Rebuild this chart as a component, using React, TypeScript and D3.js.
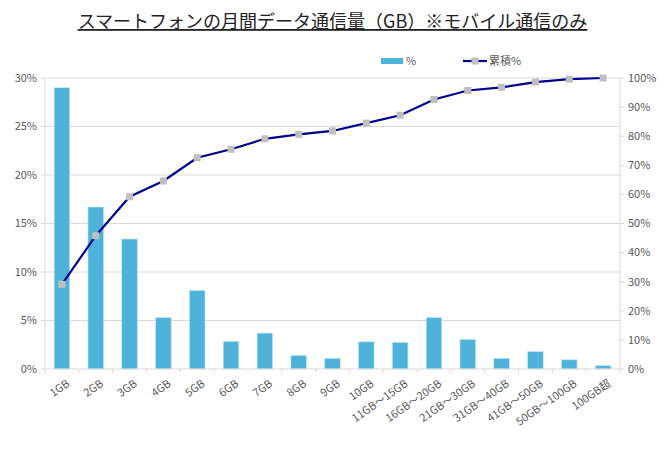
import React, { useEffect, useRef } from 'react';
import * as d3 from 'd3';

const categories = [
  '1GB', '2GB', '3GB', '4GB', '5GB', '6GB', '7GB', '8GB', '9GB', '10GB',
  '11GB～15GB', '16GB～20GB', '21GB～30GB', '31GB～40GB', '41GB～50GB', '50GB～100GB', '100GB超',
];
const shares = [29.0, 16.7, 13.4, 5.3, 8.1, 2.85, 3.7, 1.4, 1.1, 2.8, 2.75, 5.3, 3.05, 1.1, 1.8, 0.95, 0.35];
const cumulative = [29.1, 45.8, 59.2, 64.6, 72.6, 75.5, 79.1, 80.6, 81.8, 84.5, 87.2, 92.6, 95.7, 96.8, 98.6, 99.6, 100];
const leftTicks = [0, 5, 10, 15, 20, 25, 30];
const rightTicks = [0, 10, 20, 30, 40, 50, 60, 70, 80, 90, 100];

const W = 665;
const H = 450;
const FONT = '"Noto Sans CJK JP", "DejaVu Sans", sans-serif';

export default function App() {
  const svgRef = useRef<SVGSVGElement>(null);

  useEffect(() => {
    if (!svgRef.current) return;
    const svg = d3.select(svgRef.current);
    svg.selectAll('*').remove();

    const left = 45, right = 620, top = 78, bottom = 369;

    const x = d3.scaleBand<string>().domain(categories).range([left, right]).paddingInner(0.54).paddingOuter(0.27);
    const yL = d3.scaleLinear().domain([0, 30]).range([bottom, top]);
    const yR = d3.scaleLinear().domain([0, 100]).range([bottom, top]);

    // title
    const title = svg.append('text')
      .attr('x', W / 2).attr('y', 28)
      .attr('text-anchor', 'middle')
      .attr('font-family', FONT)
      .attr('font-size', 18)
      .attr('fill', '#222')
      .attr('text-decoration', 'underline')
      .text('スマートフォンの月間データ通信量（GB）※モバイル通信のみ');

    // gridlines
    svg.append('g').selectAll('line').data(leftTicks.slice(1)).join('line')
      .attr('x1', left).attr('x2', right)
      .attr('y1', (d) => yL(d)).attr('y2', (d) => yL(d))
      .attr('stroke', '#d9d9d9').attr('stroke-width', 1);

    // axis lines
    svg.append('line').attr('x1', left).attr('x2', left).attr('y1', top).attr('y2', bottom).attr('stroke', '#d9d9d9');
    svg.append('line').attr('x1', right).attr('x2', right).attr('y1', top).attr('y2', bottom).attr('stroke', '#d9d9d9');

    // left tick marks & labels
    const gl = svg.append('g');
    gl.selectAll('line').data(leftTicks).join('line')
      .attr('x1', left - 4).attr('x2', left)
      .attr('y1', (d) => yL(d)).attr('y2', (d) => yL(d))
      .attr('stroke', '#d9d9d9');
    gl.selectAll('text').data(leftTicks).join('text')
      .attr('x', left - 8).attr('y', (d) => yL(d))
      .attr('dy', '0.35em')
      .attr('text-anchor', 'end')
      .attr('font-family', FONT).attr('font-size', 11).attr('fill', '#595959')
      .text((d) => `${d}%`);

    const gr = svg.append('g');
    gr.selectAll('line').data(rightTicks).join('line')
      .attr('x1', right).attr('x2', right + 4)
      .attr('y1', (d) => yR(d)).attr('y2', (d) => yR(d))
      .attr('stroke', '#d9d9d9');
    gr.selectAll('text').data(rightTicks).join('text')
      .attr('x', right + 8).attr('y', (d) => yR(d))
      .attr('dy', '0.35em')
      .attr('font-family', FONT).attr('font-size', 11).attr('fill', '#595959')
      .text((d) => `${d}%`);

    // bars
    svg.append('g').selectAll('rect').data(shares).join('rect')
      .attr('x', (_, i) => x(categories[i])!)
      .attr('width', x.bandwidth())
      .attr('y', (d) => yL(d))
      .attr('height', (d) => bottom - yL(d))
      .attr('fill', '#4fb3d9')
      .attr('stroke', '#c6e6f3')
      .attr('stroke-width', 0.6);

    // x axis
    svg.append('line').attr('x1', left).attr('x2', right).attr('y1', bottom).attr('y2', bottom).attr('stroke', '#d9d9d9');
    const step = (right - left) / categories.length;
    svg.append('g').selectAll('line').data(d3.range(categories.length + 1)).join('line')
      .attr('x1', (i) => left + i * step).attr('x2', (i) => left + i * step)
      .attr('y1', bottom).attr('y2', bottom + 4)
      .attr('stroke', '#d9d9d9');
    svg.append('g').selectAll('text').data(categories).join('text')
      .attr('transform', (d) => `translate(${x(d)! + x.bandwidth() / 2 + 4},${bottom + 10}) rotate(-35)`)
      .attr('text-anchor', 'end')
      .attr('dy', '0.7em')
      .attr('font-family', FONT).attr('font-size', 11).attr('fill', '#595959')
      .text((d) => d);

    // cumulative line
    const cx = (i: number) => x(categories[i])! + x.bandwidth() / 2;
    const line = d3.line<number>().x((_, i) => cx(i)).y((d) => yR(d));
    svg.append('path').datum(cumulative)
      .attr('d', line)
      .attr('fill', 'none')
      .attr('stroke', '#00008b')
      .attr('stroke-width', 2.2);
    svg.append('g').selectAll('rect').data(cumulative).join('rect')
      .attr('x', (_, i) => cx(i) - 3.5)
      .attr('y', (d) => yR(d) - 3.5)
      .attr('width', 7).attr('height', 7)
      .attr('fill', '#bfbfbf');

    // legend
    const lg = svg.append('g').attr('font-family', FONT).attr('font-size', 11).attr('fill', '#595959');
    lg.append('rect').attr('x', 381).attr('y', 58).attr('width', 22).attr('height', 6).attr('fill', '#4fb3d9');
    lg.append('text').attr('x', 406).attr('y', 61).attr('dy', '0.35em').text('%');
    lg.append('line').attr('x1', 463).attr('x2', 487).attr('y1', 61).attr('y2', 61).attr('stroke', '#00008b').attr('stroke-width', 2.2);
    lg.append('rect').attr('x', 471.5).attr('y', 57.5).attr('width', 7).attr('height', 7).attr('fill', '#bfbfbf');
    lg.append('text').attr('x', 489).attr('y', 61).attr('dy', '0.35em').text('累積%');

    void title;
  }, []);

  return (
    <div style={{ position: 'absolute', left: 0, top: 0, width: W, height: H, background: '#fff' }}>
      <svg ref={svgRef} width={W} height={H} style={{ display: 'block' }} />
    </div>
  );
}
